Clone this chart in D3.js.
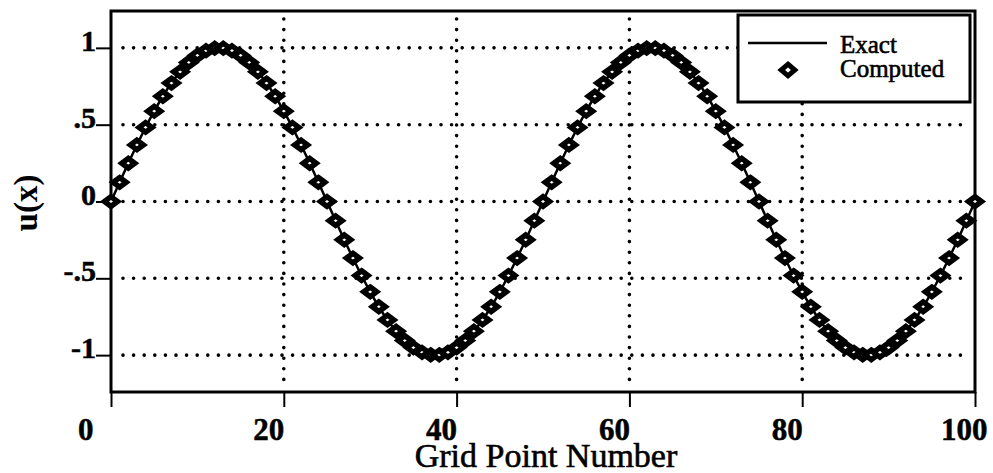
<!DOCTYPE html>
<html>

<head>
  <title>u(x) vs Grid Point Number</title>
  <script type="text/javascript" src="https://cdn.jsdelivr.net/npm/d3@7"></script>
  <style>
    body {
      margin: 0;
      background-color: #ffffff;
    }

    svg {
      display: block;
    }

    text {
      font-family: "Liberation Serif", "Times New Roman", serif;
      fill: #000;
    }

    .grid line {
      stroke: #000;
      stroke-width: 3.6px;
      stroke-linecap: round;
      stroke-dasharray: 0 10.6;
    }
  </style>
</head>

<body>
  <script type="text/javascript">

    // Grid points (x) and u(x)
    const gridPoints = [
      0, 1, 2, 3, 4, 5, 6, 7, 8, 9,
      10, 11, 12, 13, 14, 15, 16, 17, 18, 19,
      20, 21, 22, 23, 24, 25, 26, 27, 28, 29,
      30, 31, 32, 33, 34, 35, 36, 37, 38, 39,
      40, 41, 42, 43, 44, 45, 46, 47, 48, 49,
      50, 51, 52, 53, 54, 55, 56, 57, 58, 59,
      60, 61, 62, 63, 64, 65, 66, 67, 68, 69,
      70, 71, 72, 73, 74, 75, 76, 77, 78, 79,
      80, 81, 82, 83, 84, 85, 86, 87, 88, 89,
      90, 91, 92, 93, 94, 95, 96, 97, 98, 99,
      100
    ];

    const computedU = [
      0, 0.125, 0.249, 0.368, 0.482, 0.588, 0.685, 0.771, 0.844, 0.905,
      0.951, 0.982, 0.998, 0.998, 0.982, 0.951, 0.905, 0.844, 0.771, 0.685,
      0.588, 0.482, 0.368, 0.249, 0.125, 0, -0.125, -0.249, -0.368, -0.482,
      -0.588, -0.685, -0.771, -0.844, -0.905, -0.951, -0.982, -0.998, -0.998, -0.982,
      -0.951, -0.905, -0.844, -0.771, -0.685, -0.588, -0.482, -0.368, -0.249, -0.125,
      0, 0.125, 0.249, 0.368, 0.482, 0.588, 0.685, 0.771, 0.844, 0.905,
      0.951, 0.982, 0.998, 0.998, 0.982, 0.951, 0.905, 0.844, 0.771, 0.685,
      0.588, 0.482, 0.368, 0.249, 0.125, 0, -0.125, -0.249, -0.368, -0.482,
      -0.588, -0.685, -0.771, -0.844, -0.905, -0.951, -0.982, -0.998, -0.998, -0.982,
      -0.951, -0.905, -0.844, -0.771, -0.685, -0.588, -0.482, -0.368, -0.249, -0.125,
      0
    ];

    // the exact curve passes through the same values
    const exactU = computedU;

    const xTicks = [0, 20, 40, 60, 80, 100];
    const xTickLabels = ["0", "20", "40", "60", "80", "100"];
    const xGridAt = [20, 40, 60, 80];

    const yTicks = [1, 0.5, 0, -0.5, -1];
    const yTickLabels = ["1", ".5", "0", "-.5", "-1"];

    const legendLabels = ["Exact", "Computed"];

    // Width and height
    const w = 993;
    const h = 473;
    const plotLeft = 111, plotRight = 975, plotTop = 11, plotBottom = 392;

    const xScale = d3.scaleLinear()
      .domain([0, 100])
      .range([plotLeft, plotRight]);

    const yScale = d3.scaleLinear()
      .domain([-1.24, 1.24])
      .range([plotBottom, plotTop]);

    const svg = d3.select("body")
      .append("svg")
      .attr("width", w)
      .attr("height", h);

    // dotted grid lines
    const grid = svg.append("g").attr("class", "grid");
    grid.selectAll("line.h")
      .data(yTicks)
      .enter()
      .append("line")
      .attr("class", "h")
      .attr("x1", plotLeft + 12)
      .attr("x2", plotRight - 4)
      .attr("y1", function (d) { return yScale(d); })
      .attr("y2", function (d) { return yScale(d); });

    grid.selectAll("line.v")
      .data(xGridAt)
      .enter()
      .append("line")
      .attr("class", "v")
      .attr("x1", function (d) { return xScale(d); })
      .attr("x2", function (d) { return xScale(d); })
      .attr("y1", plotTop + 8)
      .attr("y2", plotBottom - 4);

    // x axis: ticks below the frame
    const xAxis = d3.axisBottom(xScale)
      .tickValues(xTicks)
      .tickSize(15)
      .tickFormat(function (d, i) { return xTickLabels[i]; });

    const gx = svg.append("g")
      .attr("transform", "translate(0," + plotBottom + ")")
      .call(xAxis);
    gx.attr("font-family", null).attr("font-size", null);
    gx.select(".domain").remove();
    gx.selectAll(".tick line").attr("stroke", "#000").attr("stroke-width", 2);
    gx.selectAll(".tick text")
      .attr("y", 48)
      .attr("dy", 0)
      .attr("text-anchor", "end")
      .attr("dx", function (d, i) {
        if (i === 0) return -18;
        if (i === xTicks.length - 1) return 12;
        return 0;
      })
      .attr("font-size", "31px")
      .attr("font-weight", "bold")
      .attr("stroke", "#000")
      .attr("stroke-width", 0.5);

    // y axis: ticks to the left of the frame
    const yAxis = d3.axisLeft(yScale)
      .tickValues(yTicks)
      .tickSize(15)
      .tickPadding(0)
      .tickFormat(function (d, i) { return yTickLabels[i]; });

    const gy = svg.append("g")
      .attr("transform", "translate(" + plotLeft + ",0)")
      .call(yAxis);
    gy.attr("font-family", null).attr("font-size", null);
    gy.select(".domain").remove();
    gy.selectAll(".tick line").attr("stroke", "#000").attr("stroke-width", 2);
    gy.selectAll(".tick text")
      .attr("x", -15)
      .attr("dy", 2.5)
      .attr("font-size", "30px")
      .attr("font-weight", "bold")
      .attr("stroke", "#000")
      .attr("stroke-width", 0.5);

    // frame
    svg.append("rect")
      .attr("x", plotLeft)
      .attr("y", plotTop)
      .attr("width", plotRight - plotLeft)
      .attr("height", plotBottom - plotTop)
      .attr("fill", "none")
      .attr("stroke", "#000")
      .attr("stroke-width", 3);

    // exact solution
    const line = d3.line()
      .x(function (d, i) { return xScale(gridPoints[i]); })
      .y(function (d) { return yScale(d); })
      .curve(d3.curveNatural);

    svg.append("path")
      .datum(exactU)
      .attr("d", line)
      .attr("fill", "none")
      .attr("stroke", "#000")
      .attr("stroke-width", 2.5);

    // diamond marker path (a little wider than tall, as in the scan)
    function diamond(a, b) {
      return "M0," + (-b) + "L" + a + ",0L0," + b + "L" + (-a) + ",0Z";
    }

    svg.selectAll("path.pt")
      .data(computedU)
      .enter()
      .append("path")
      .attr("class", "pt")
      .attr("d", diamond(6.5, 4.8))
      .attr("transform", function (d, i) {
        return "translate(" + xScale(gridPoints[i]) + "," + yScale(d) + ")";
      })
      .attr("fill", "#fff")
      .attr("stroke", "#000")
      .attr("stroke-width", 5.4)
      .attr("stroke-linejoin", "miter");

    // legend
    const lg = svg.append("g");
    lg.append("rect")
      .attr("x", 738)
      .attr("y", 15)
      .attr("width", 232)
      .attr("height", 87)
      .attr("fill", "#fff")
      .attr("stroke", "#000")
      .attr("stroke-width", 3);

    lg.append("line")
      .attr("x1", 748)
      .attr("x2", 827)
      .attr("y1", 43)
      .attr("y2", 43)
      .attr("stroke", "#000")
      .attr("stroke-width", 2.5);

    lg.append("path")
      .attr("d", diamond(6.8, 5.8))
      .attr("transform", "translate(788,70)")
      .attr("fill", "#fff")
      .attr("stroke", "#000")
      .attr("stroke-width", 5);

    lg.selectAll("text")
      .data(legendLabels)
      .enter()
      .append("text")
      .attr("x", 840)
      .attr("y", function (d, i) { return i === 0 ? 53 : 77; })
      .attr("font-size", "25px")
      .attr("stroke", "#000")
      .attr("stroke-width", 0.6)
      .text(function (d) { return d; });

    // axis titles
    svg.append("text")
      .attr("x", (plotLeft + plotRight) / 2 + 3)
      .attr("y", 467)
      .attr("text-anchor", "middle")
      .attr("font-size", "34px")
      .attr("stroke", "#000")
      .attr("stroke-width", 0.6)
      .text("Grid Point Number");

    svg.append("text")
      .attr("transform", "translate(37,203) rotate(-90)")
      .attr("text-anchor", "middle")
      .attr("font-size", "33px")
      .attr("font-weight", "bold")
      .text("u(x)");

  </script>
</body>

</html>
